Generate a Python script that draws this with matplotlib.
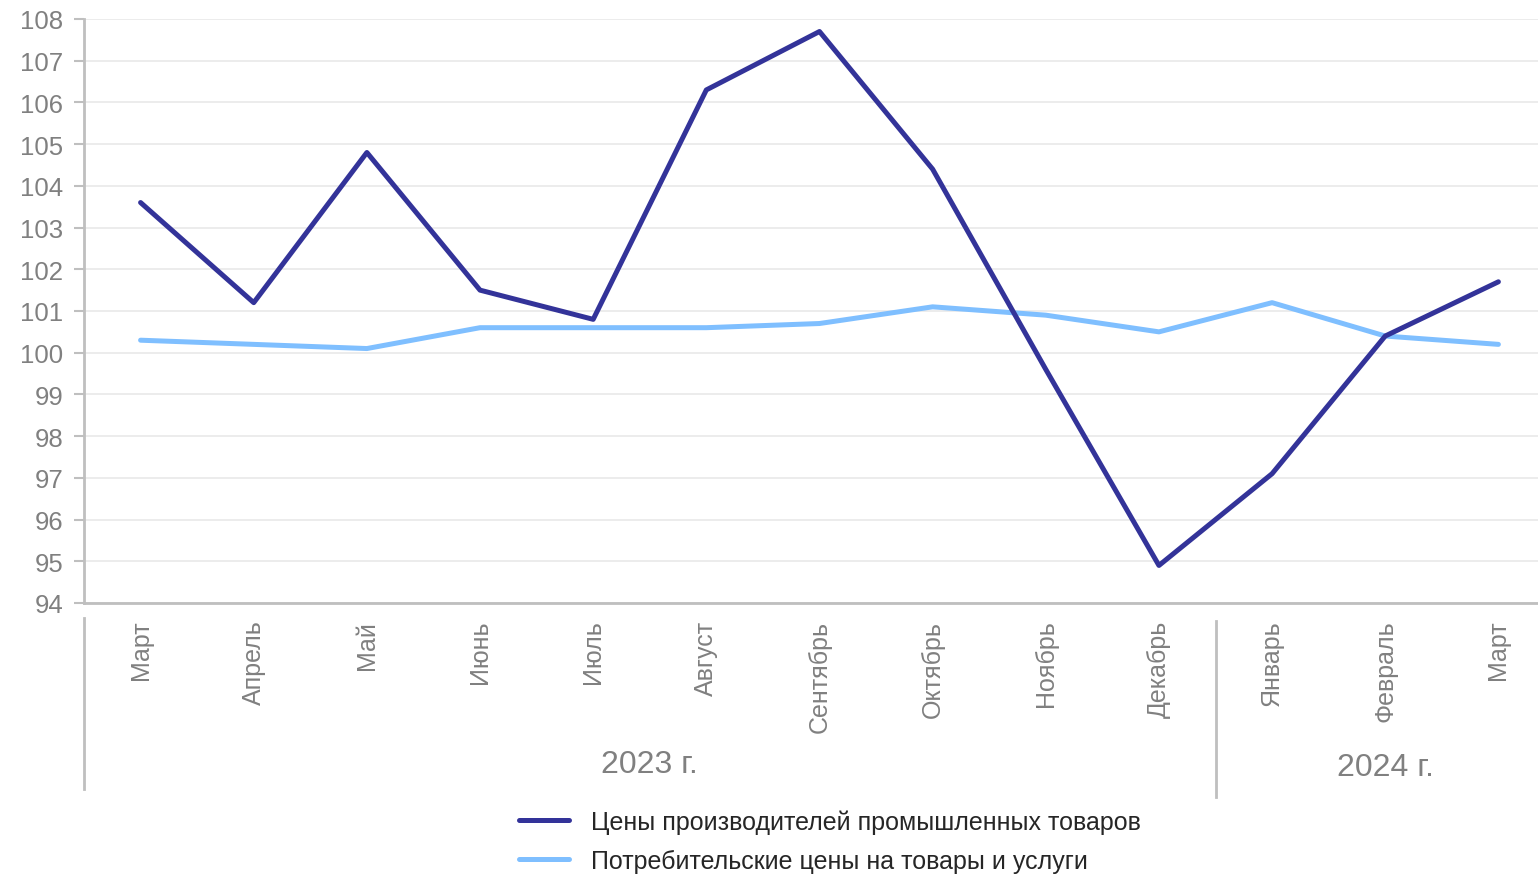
import matplotlib.pyplot as plt
import matplotlib.transforms as mtransforms

plt.rcParams['font.family'] = ['Liberation Sans', 'DejaVu Sans']

# Месяцы (март 2023 - март 2024)
months = ["Март", "Апрель", "Май", "Июнь", "Июль", "Август", "Сентябрь",
          "Октябрь", "Ноябрь", "Декабрь", "Январь", "Февраль", "Март"]
years = ["2023 г.", "2024 г."]
year_spans = [(-0.5, 9.5), (9.5, 12.5)]

# Индексы цен, % к предыдущему месяцу
producer = [103.6, 101.2, 104.8, 101.5, 100.8, 106.3, 107.7,
            104.4, 99.6, 94.9, 97.1, 100.4, 101.7]
consumer = [100.3, 100.2, 100.1, 100.6, 100.6, 100.6, 100.7,
            101.1, 100.9, 100.5, 101.2, 100.4, 100.2]

label_prod = "Цены производителей промышленных товаров"
label_cons = "Потребительские цены на товары и услуги"

grey = "#808080"
spine = "#bfbfbf"

fig = plt.figure(figsize=(15.38, 8.79), dpi=100)
ax = fig.add_axes([84 / 1538, 1 - 604 / 879, 1 - 84 / 1538, 584 / 879])

x = list(range(len(months)))
ax.plot(x, consumer, color="#7fbfff", lw=3.6, solid_capstyle="round",
        label=label_cons, zorder=3)
ax.plot(x, producer, color="#333399", lw=3.6, solid_capstyle="round",
        label=label_prod, zorder=4)

ax.set_xlim(-0.5, 12.35)
ax.set_ylim(94, 108)
ax.set_yticks(range(94, 109))
ax.grid(axis="y", color="#e9e9e9", lw=1.2)
ax.set_axisbelow(True)

for s in ["top", "right"]:
    ax.spines[s].set_visible(False)
for s in ["left", "bottom"]:
    ax.spines[s].set_color(spine)
    ax.spines[s].set_linewidth(2)

ax.tick_params(axis="y", colors=spine, length=7, width=1.5, labelsize=18.5,
               labelcolor=grey, pad=8)
ax.set_xticks(x)
ax.set_xticklabels(months, rotation=90, fontsize=18, color=grey, va="top")
ax.tick_params(axis="x", length=0, pad=12)

# Группировка по годам под осью
trans = mtransforms.blended_transform_factory(ax.transData, ax.transAxes)
ax.plot([-0.5, -0.5], [-0.025, -0.318], color=spine, lw=2,
        transform=trans, clip_on=False)
ax.plot([9.5, 9.5], [-0.03, -0.332], color=spine, lw=2,
        transform=trans, clip_on=False)
for (a, b), yl, yy in zip(year_spans, years, [-0.276, -0.281]):
    ax.text((a + b) / 2, yy, yl, transform=trans, ha="center", va="center",
            fontsize=23, color=grey)

handles, labels = ax.get_legend_handles_labels()
leg = fig.legend(handles[::-1], labels[::-1], loc="center left",
                 bbox_to_anchor=(496 / 1538, 1 - 842 / 879), frameon=False,
                 fontsize=18, handlelength=2.0, handletextpad=0.9,
                 labelspacing=0.6)
for t in leg.get_texts():
    t.set_color("#262626")

fig.savefig("out.png", dpi=100)
